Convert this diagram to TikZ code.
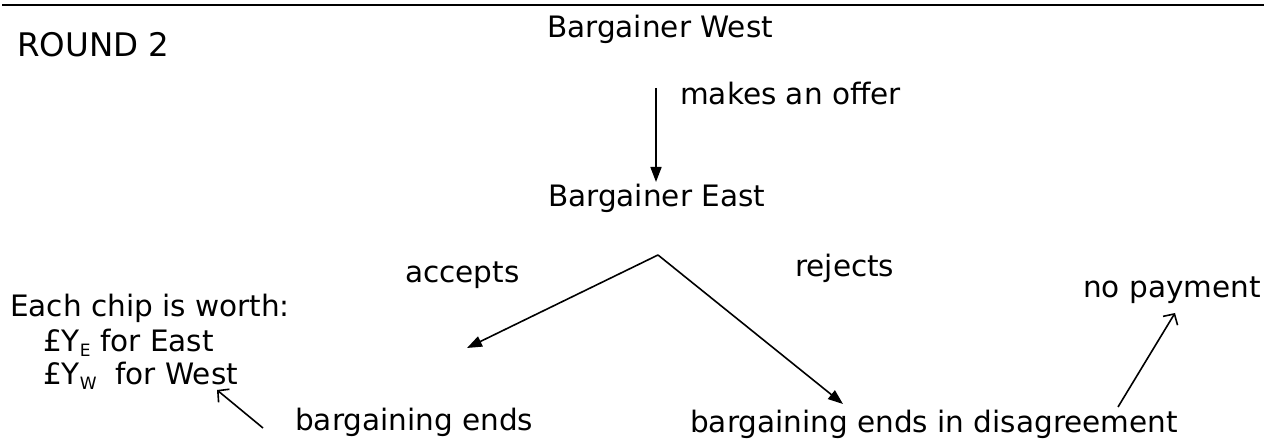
\documentclass[tikz,border=0pt]{standalone}
\usepackage{fontspec}
\setmainfont{DejaVu Sans}
\usetikzlibrary{arrows.meta}
\newcommand{\sbs}[1]{\raisebox{-0.3ex}{\fontsize{17}{17}\selectfont #1}}
\tikzset{
  lbl/.style={anchor=base west, inner sep=0pt, font=\fontsize{29.5}{34}\selectfont},
  mainarr/.style={line width=1.6pt, -{Triangle[length=15pt,width=11pt]}},
  notearr/.style={line width=1.6pt, -{Straight Barb[length=8pt,width=17pt,line width=1.6pt]}},
}
\begin{document}
\begin{tikzpicture}[x=1pt,y=-1pt]
\useasboundingbox (0,0) rectangle (1264,443);
\fill[white] (0,0) rectangle (1264,443);
\coordinate (rl) at (2,5);
\coordinate (rr) at (1264,5);
\draw[line width=2pt] (rl) -- (rr);
\node[lbl, font=\fontsize{32.5}{34}\selectfont] (round) at (17,57) {ROUND 2};
\node[lbl] (west) at (547,38) {Bargainer West};
\node[lbl] (offer) at (680,105) {makes an offer};
\node[lbl] (east) at (548,207) {Bargainer East};
\node[lbl] (acc) at (405,283) {accepts};
\node[lbl] (rej) at (795,277) {rejects};
\node[lbl] (nopay) at (1083,298) {no payment};
\node[lbl] (chip) at (10,317) {Each chip is worth:};
\node[lbl] (ye) at (43,352) {£Y\sbs{E} for East};
\node[lbl] (yw) at (43,385) {£Y\sbs{W}\ \ for West};
\node[lbl] (ends) at (295,431) {bargaining ends};
\node[lbl] (dis) at (690,432) {bargaining ends in disagreement};
\coordinate (vtop) at (656,88);
\coordinate (vtip) at (656,182);
\coordinate (apex) at (658,255);
\coordinate (ltip) at (467,348);
\coordinate (rtip) at (843,404);
\coordinate (ntail) at (1118,407);
\coordinate (ntip) at (1175,313);
\coordinate (wtail) at (263,428);
\coordinate (wtip) at (217,390);
\draw[mainarr] (vtop) -- (vtip);
\draw[mainarr] (apex) -- (ltip);
\draw[mainarr] (apex) -- (rtip);
\draw[notearr] (ntail) -- (ntip);
\draw[notearr] (wtail) -- (wtip);
\end{tikzpicture}
\end{document}
